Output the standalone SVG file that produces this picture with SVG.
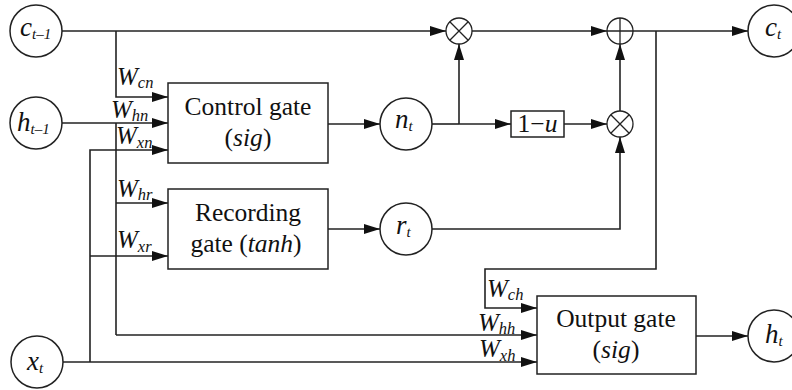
<svg xmlns="http://www.w3.org/2000/svg" width="792" height="390" viewBox="0 0 792 390">
<style>
.ln{fill:none;stroke:#222;stroke-width:1.6}
.arr{marker-end:url(#ah)}
.nd{fill:#fff;stroke:#222;stroke-width:1.5}
.op{fill:#fff;stroke:#222;stroke-width:1.3}
text{font-family:'Liberation Serif','Times New Roman',serif;fill:#111}
.g{font-size:25.5px}
.it{font-style:italic}
.w{font-size:25px;font-style:italic}
.ws{font-size:16.5px}
.cv{font-size:27px;font-style:italic}
.cs{font-size:15px}
</style>
<defs>
<marker id="ah" markerUnits="userSpaceOnUse" markerWidth="16" markerHeight="10" refX="16" refY="5" orient="auto">
<path d="M0,0 L16,5 L0,10 z" fill="#111"/>
</marker>
</defs>
<rect width="792" height="390" fill="#fff"/>

<g id="connectors">
<path class="ln arr" d="M62,31 H446"/>
<path class="ln arr" d="M116,31 V97 H168"/>
<path class="ln arr" d="M62,123 H168"/>
<path class="ln" d="M116,123 V335"/>
<path class="ln arr" d="M116,203 H168"/>
<path class="ln arr" d="M116,335 H537"/>
<path class="ln arr" d="M63,362 H537"/>
<path class="ln arr" d="M90,362 V150 H168"/>
<path class="ln arr" d="M90,256 H168"/>
<path class="ln arr" d="M328,124 H380"/>
<path class="ln arr" d="M328,229 H380"/>
<path class="ln" d="M432,124 H459"/>
<path class="ln arr" d="M459,124 V44"/>
<path class="ln arr" d="M459,124 H511"/>
<path class="ln arr" d="M564,124 H607"/>
<path class="ln arr" d="M432,229 H620 V137"/>
<path class="ln arr" d="M620,111 V44"/>
<path class="ln arr" d="M472,31 H607"/>
<path class="ln arr" d="M633,31 H748"/>
<path class="ln arr" d="M656,31 V269 H485 V308 H537"/>
<path class="ln arr" d="M696,336 H748"/>
</g>

<g id="labels">
<text class="w" x="117" y="85">W<tspan class="ws" dy="3">cn</tspan></text>
<text class="w" x="111" y="118">W<tspan class="ws" dy="3">hn</tspan></text>
<text class="w" x="116" y="144">W<tspan class="ws" dy="4">xn</tspan></text>
<text class="w" x="117" y="197">W<tspan class="ws" dy="3">hr</tspan></text>
<text class="w" x="117" y="248">W<tspan class="ws" dy="4">xr</tspan></text>
<text class="w" x="487" y="297">W<tspan class="ws" dy="3">ch</tspan></text>
<text class="w" x="478" y="331">W<tspan class="ws" dy="3">hh</tspan></text>
<text class="w" x="479" y="357">W<tspan class="ws" dy="4">xh</tspan></text>
</g>

<g id="c_prev">
<circle class="nd" cx="36" cy="31" r="26"/>
<text class="cv" x="20" y="36">c<tspan class="cs" dy="3"><tspan class="it">t</tspan>–1</tspan></text>
</g>
<g id="h_prev">
<circle class="nd" cx="36" cy="123" r="26"/>
<text class="cv" x="17" y="131">h<tspan class="cs" dy="3"><tspan class="it">t</tspan>–1</tspan></text>
</g>
<g id="x_t">
<circle class="nd" cx="37" cy="362" r="26"/>
<text class="cv" x="27" y="370">x<tspan class="cs" dy="3">t</tspan></text>
</g>

<g id="control_gate">
<rect class="nd" x="168" y="83" width="160" height="80"/>
<text class="g" x="248" y="115" text-anchor="middle">Control gate</text>
<text class="g" x="248" y="146" text-anchor="middle">(<tspan class="it">sig</tspan>)</text>
</g>
<g id="recording_gate">
<rect class="nd" x="168" y="189" width="160" height="80"/>
<text class="g" x="248" y="221" text-anchor="middle">Recording</text>
<text class="g" x="246" y="252" text-anchor="middle">gate (<tspan class="it">tanh</tspan>)</text>
</g>
<g id="output_gate">
<rect class="nd" x="537" y="296" width="159" height="78"/>
<text class="g" x="616" y="327" text-anchor="middle">Output gate</text>
<text class="g" x="616" y="358" text-anchor="middle">(<tspan class="it">sig</tspan>)</text>
</g>

<g id="n_t">
<circle class="nd" cx="406" cy="124" r="26"/>
<text class="cv" x="395" y="128">n<tspan class="cs" dy="3">t</tspan></text>
</g>
<g id="r_t">
<circle class="nd" cx="406" cy="229" r="26"/>
<text class="cv" x="396" y="234">r<tspan class="cs" dy="3">t</tspan></text>
</g>

<g id="multiply1">
<circle class="op" cx="459" cy="31" r="13"/>
<path class="op" d="M449.8,21.8 L468.2,40.2 M468.2,21.8 L449.8,40.2"/>
</g>
<g id="plus">
<circle class="op" cx="620" cy="31" r="13"/>
<path class="op" d="M607,31 H633 M620,18 V44"/>
</g>
<g id="multiply2">
<circle class="op" cx="620" cy="124" r="13"/>
<path class="op" d="M610.8,114.8 L629.2,133.2 M629.2,114.8 L610.8,133.2"/>
</g>
<g id="one_minus_u">
<rect class="nd" x="511" y="111" width="53" height="26"/>
<text class="g" x="537.5" y="132" text-anchor="middle">1−<tspan class="it">u</tspan></text>
</g>

<g id="c_t">
<circle class="nd" cx="774" cy="31" r="26"/>
<text class="cv" x="765" y="36">c<tspan class="cs" dy="3">t</tspan></text>
</g>
<g id="h_t">
<circle class="nd" cx="774" cy="336" r="26"/>
<text class="cv" x="765" y="343">h<tspan class="cs" dy="3">t</tspan></text>
</g>
</svg>
